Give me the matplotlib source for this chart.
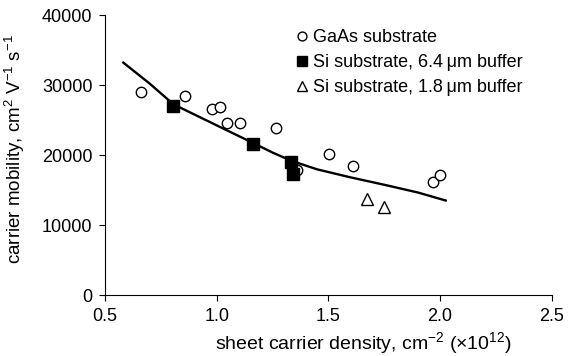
import matplotlib
matplotlib.use("Agg")
import matplotlib.pyplot as plt

plt.rcParams['font.family'] = ['Liberation Sans', 'DejaVu Sans']
plt.rcParams['mathtext.fontset'] = 'custom'
plt.rcParams['mathtext.rm'] = 'Liberation Sans'
plt.rcParams['mathtext.it'] = 'Liberation Sans:italic'

# GaAs substrate (open circles)
gaas_x = [0.661, 0.858, 0.978, 1.015, 1.045, 1.104, 1.264, 1.358, 1.501, 1.612, 1.970, 2.000]
gaas_y = [28950, 28390, 26570, 26810, 24610, 24610, 23860, 17860, 20100, 18480, 16140, 17100]

# Si substrate, 6.4 um buffer (filled squares)
si64_x = [0.806, 1.164, 1.333, 1.343]
si64_y = [27040, 21570, 19000, 17240]

# Si substrate, 1.8 um buffer (open triangles)
si18_x = [1.671, 1.750]
si18_y = [13760, 12620]

# fitted trend line
fit_x = [0.582, 0.70, 0.806, 0.97, 1.164, 1.25, 1.336, 1.45, 1.60, 1.75, 1.90, 2.025]
fit_y = [33200, 30200, 27250, 24700, 21700, 20350, 19150, 17950, 16800, 15750, 14650, 13500]

fig = plt.figure(figsize=(5.73, 3.56), dpi=100)
ax = fig.add_axes([0.1833, 0.1713, 0.7797, 0.7865])

ax.plot(fit_x, fit_y, color='black', lw=1.7, zorder=2, solid_joinstyle='round')
ax.plot(gaas_x, gaas_y, 'o', ms=7.5, mfc='white', mec='black', mew=1.0,
        ls='none', label='GaAs substrate', zorder=3)
ax.plot(si64_x, si64_y, 's', ms=8.5, mfc='black', mec='black',
        ls='none', label='Si substrate, 6.4\u2009\u03bcm buffer', zorder=4)
ax.plot(si18_x, si18_y, '^', ms=8, mfc='white', mec='black', mew=1.0,
        ls='none', label='Si substrate, 1.8\u2009\u03bcm buffer', zorder=3)

ax.set_xlim(0.5, 2.5)
ax.set_ylim(0, 40000)
ax.set_xticks([0.5, 1.0, 1.5, 2.0, 2.5])
ax.set_xticklabels(['0.5', '1.0', '1.5', '2.0', '2.5'])
ax.set_yticks([0, 10000, 20000, 30000, 40000])
ax.tick_params(direction='out', length=4, width=0.8, labelsize=13, colors='black', pad=5)
for s in ['top', 'right']:
    ax.spines[s].set_visible(False)
ax.spines['left'].set_linewidth(0.8)
ax.spines['bottom'].set_linewidth(0.8)

ax.set_xlabel('sheet carrier density, cm$^{-2}$ (\u00d710$^{12}$)', fontsize=14)
ax.xaxis.set_label_coords(0.579, -0.125)
ax.set_ylabel('carrier mobility, cm$^{2}$ V$^{-1}$ s$^{-1}$', fontsize=13.5)
ax.yaxis.set_label_coords(-0.175, 0.52)

ax.legend(loc='upper left', bbox_to_anchor=(0.41, 0.975), frameon=False,
          fontsize=13, handlelength=0.7, handletextpad=0.3, labelspacing=0.45,
          markerscale=0.85, borderaxespad=0)

fig.savefig('out.png', dpi=100)
